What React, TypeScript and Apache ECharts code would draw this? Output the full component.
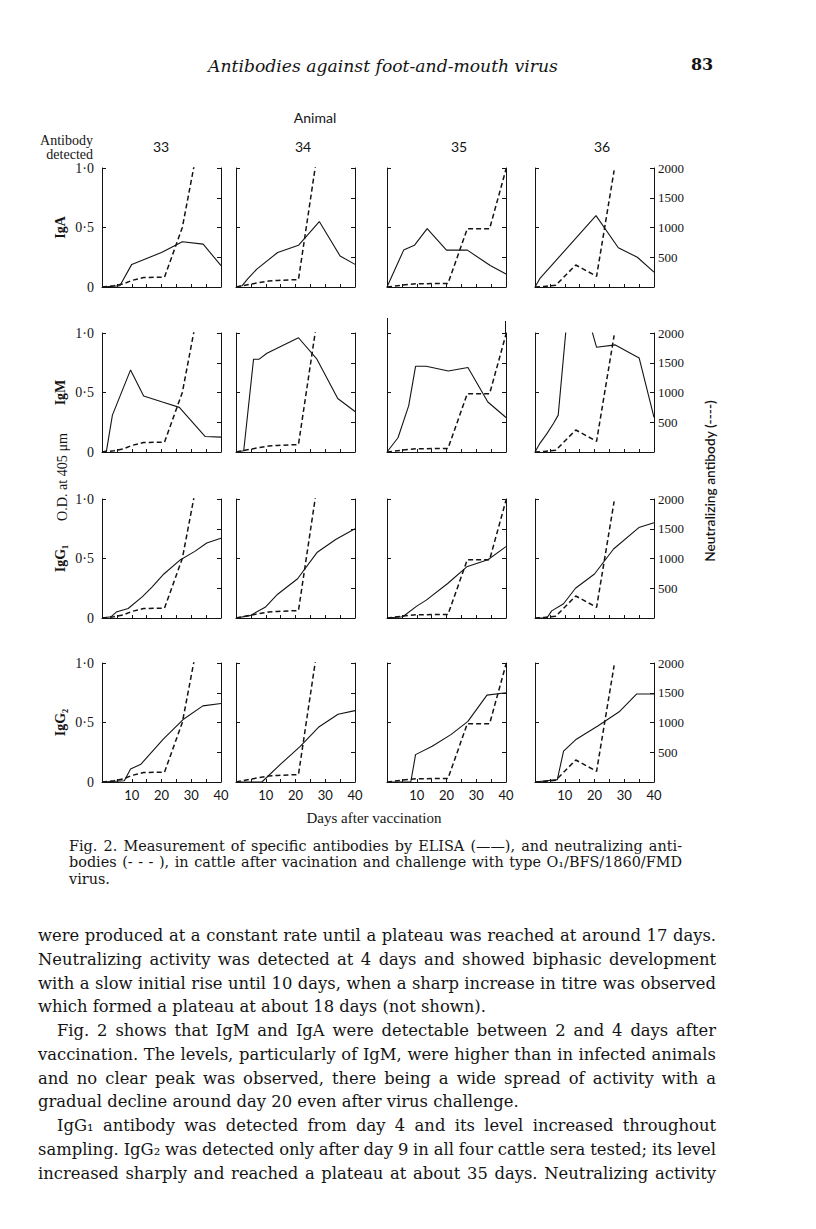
import React, { useEffect, useRef } from 'react';
import * as echarts from 'echarts';

// ---------- data ----------
const animals = ['33', '34', '35', '36'];
const isotypeLabels = ['IgA', 'IgM', 'IgG₁', 'IgG₂'];
const xTickLabels = [10, 20, 30, 40];
const leftTickLabels: Record<string, string> = { '0': '0', '0.5': '0·5', '1': '1·0' };
const rightTickLabels = [500, 1000, 1500, 2000];

// neutralizing antibody titre (dashed), one per animal: [day, titre]
const neut33 = [[0, 0], [4, 20], [7, 50], [10, 110], [14, 160], [21, 165], [27, 1000], [35, 3100]];
const neut34 = [[0, 0], [5, 50], [11, 100], [14, 110], [21, 125], [28, 2470]];
const neut35 = [[0, 0], [5, 30], [10, 55], [20.5, 60], [27, 980], [34.5, 980], [40, 1980]];
const neut36 = [[0, 0], [3, 10], [7, 30], [13.7, 370], [20.7, 180], [26.6, 1960]];

// ELISA O.D. at 405 (solid): [day, OD]
const igA33 = [[0, 0], [6, 0.01], [10, 0.19], [20, 0.29], [27, 0.38], [34, 0.36], [40, 0.18]];
const igA34 = [[0, 0], [2, 0.01], [4, 0.07], [7, 0.15], [14, 0.29], [21, 0.35], [28, 0.55], [35, 0.26], [40, 0.19]];
const igA35 = [[0, 0], [5.6, 0.31], [9.2, 0.35], [13.5, 0.49], [20, 0.31], [27, 0.31], [34.7, 0.18], [40, 0.11]];
const igA36 = [[0, 0], [1.6, 0.07], [20.5, 0.6], [28, 0.33], [34.4, 0.25], [40, 0.125]];

const igM33 = [[0, 0], [1.5, 0.01], [3.5, 0.31], [9.6, 0.69], [14, 0.47], [20.3, 0.42], [26, 0.375], [34.7, 0.13], [40, 0.125]];
const igM34 = [[0, 0], [2.6, 0.01], [5.9, 0.78], [7.8, 0.78], [10.4, 0.83], [21, 0.96], [27.2, 0.78], [34.2, 0.45], [40, 0.34]];
const igM35 = [[0, 0], [3.7, 0.12], [7.3, 0.39], [9.6, 0.72], [13.2, 0.72], [20.6, 0.68], [27.2, 0.71], [33.9, 0.42], [40, 0.29]];
const igM36 = [[0, 0], [1.7, 0.075], [3.9, 0.15], [6.2, 0.24], [7.8, 0.31], [12.5, 1.6], [20.7, 0.88], [27, 0.9], [35, 0.79], [40, 0.29]];

const igG1_33 = [[0, 0], [3, 0.01], [4.8, 0.05], [8.8, 0.08], [13.6, 0.18], [16.8, 0.26], [20.8, 0.37], [26.4, 0.49], [31.2, 0.56], [35.2, 0.63], [40, 0.67]];
const igG1_34 = [[0, 0], [4.7, 0.02], [9.8, 0.09], [14, 0.2], [20.7, 0.33], [27.2, 0.55], [33.5, 0.66], [40, 0.75]];
const igG1_35 = [[0, 0], [5.3, 0.01], [10, 0.1], [13.2, 0.15], [20.4, 0.29], [26.8, 0.43], [33.9, 0.49], [40, 0.6]];
const igG1_36 = [[0, 0], [4, 0], [5.6, 0.06], [9.6, 0.12], [13.6, 0.25], [20, 0.37], [26.4, 0.58], [34.9, 0.76], [40, 0.8]];

const igG2_33 = [[0, 0], [7.5, 0.01], [9.6, 0.11], [13.1, 0.15], [20.6, 0.36], [27.5, 0.53], [33.9, 0.64], [40, 0.66]];
const igG2_34 = [[0, 0], [8.7, 0], [15, 0.15], [21.6, 0.3], [27.7, 0.46], [34.3, 0.57], [40, 0.6]];
const igG2_35 = [[0, 0], [8, 0], [9.6, 0.23], [15.2, 0.3], [21.6, 0.4], [27.2, 0.51], [33.6, 0.73], [40, 0.75]];
const igG2_36 = [[0, 0], [7.5, 0.02], [9.6, 0.26], [13.9, 0.36], [21.1, 0.47], [28.3, 0.59], [34.2, 0.74], [40, 0.74]];

const elisaRows = [
  [igA33, igA34, igA35, igA36],
  [igM33, igM34, igM35, igM36],
  [igG1_33, igG1_34, igG1_35, igG1_36],
  [igG2_33, igG2_34, igG2_35, igG2_36],
];
const neutByAnimal = [neut33, neut34, neut35, neut36];

// ---------- page text ----------
const titleText = 'Antibodies against foot-and-mouth virus';
const pageNumber = '83';
const captionLines = [
  'Fig. 2. Measurement of specific antibodies by ELISA (——), and neutralizing anti-',
  'bodies (- - - ), in cattle after vacination and challenge with type O₁/BFS/1860/FMD',
  'virus.',
];
const bodyLines = [
  'were produced at a constant rate until a plateau was reached at around 17 days.',
  'Neutralizing activity was detected at 4 days and showed biphasic development',
  'with a slow initial rise until 10 days, when a sharp increase in titre was observed',
  'which formed a plateau at about 18 days (not shown).',
  'Fig. 2 shows that IgM and IgA were detectable between 2 and 4 days after',
  'vaccination. The levels, particularly of IgM, were higher than in infected animals',
  'and no clear peak was observed, there being a wide spread of activity with a',
  'gradual decline around day 20 even after virus challenge.',
  'IgG₁ antibody was detected from day 4 and its level increased throughout',
  'sampling. IgG₂ was detected only after day 9 in all four cattle sera tested; its level',
  'increased sharply and reached a plateau at about 35 days. Neutralizing activity',
];
const bodyJustify = [true, true, true, false, true, true, true, false, true, true, true];
const bodyIndent = [0, 0, 0, 0, 1, 0, 0, 0, 1, 0, 0];

// ---------- layout ----------
const PANEL_LEFT = [102, 236, 387, 535];
const PANEL_TOP = [168, 333, 499, 663];
const PANEL_W = 119;
const PANEL_H = 119;
const INK = '#141414';
const SERIF = '"Liberation Serif", "DejaVu Serif", serif';
const BOOK = '"DejaVu Serif", serif';
const SANS = 'Lato, "Open Sans", sans-serif';

export default function App() {
  const ref = useRef<HTMLDivElement>(null);

  useEffect(() => {
    if (!ref.current) return;
    const chart = echarts.init(ref.current, null, { renderer: 'svg' });

    const ctx = document.createElement('canvas').getContext('2d')!;
    const measure = (t: string, font: string) => {
      ctx.font = font;
      return ctx.measureText(t).width;
    };
    const fit = (t: string, style: string, family: string, target: number) => {
      const w = measure(t, `${style} 20px ${family}`);
      return (20 * target) / w;
    };

    const txt = (text: string, x: number, y: number, font: string, align = 'center', vAlign = 'middle', rotation = 0) => ({
      type: 'text',
      x,
      y,
      rotation,
      silent: true,
      style: {
        text,
        x: 0,
        y: 0,
        font,
        fill: INK,
        align,
        verticalAlign: vAlign,
        textAlign: align,
        textVerticalAlign: vAlign,
      },
    });

    const graphics: any[] = [];

    const words = (text: string, x0: number, x1: number, y: number, font: string, justify: boolean) => {
      const ws = text.split(' ');
      const widths = ws.map((w) => measure(w, font));
      const total = widths.reduce((a, b) => a + b, 0);
      const space = measure(' ', font);
      const gap = justify && ws.length > 1 ? (x1 - x0 - total) / (ws.length - 1) : space;
      let x = x0;
      ws.forEach((w, i) => {
        graphics.push(txt(w, x, y, font, 'left', 'middle'));
        x += widths[i] + gap;
      });
    };

    // header
    const titleSize = fit(titleText, 'italic', BOOK, 350);
    graphics.push(txt(titleText, 383, 66, `italic ${titleSize.toFixed(2)}px ${BOOK}`));
    graphics.push(txt(pageNumber, 702, 64, `bold 16px ${BOOK}`));
    graphics.push(txt('Animal', 315, 117, `14px ${SANS}`));
    graphics.push(txt('Antibody', 93, 140, `14px ${SERIF}`, 'right'));
    graphics.push(txt('detected', 93, 154, `14px ${SERIF}`, 'right'));
    const animalX = [161, 303, 459, 602];
    animals.forEach((a, i) => graphics.push(txt(a, animalX[i], 146, `14px ${SANS}`)));

    // row labels
    isotypeLabels.forEach((lab, r) => {
      graphics.push(txt(lab, 60, PANEL_TOP[r] + PANEL_H / 2, `bold 14px ${SERIF}`, 'center', 'middle', Math.PI / 2));
    });
    const odSize = fit('O.D. at 405 μm', '', SERIF, 88);
    graphics.push(txt('O.D. at 405 μm', 62, 477, `${odSize.toFixed(2)}px ${SERIF}`, 'center', 'middle', Math.PI / 2));
    const nSize = fit('Neutralizing antibody (----)', '600', SANS, 162);
    graphics.push(txt('Neutralizing antibody (----)', 709, 481, `600 ${nSize.toFixed(2)}px ${SANS}`, 'center', 'middle', Math.PI / 2));
    graphics.push(txt('Days after vaccination', 374, 818, `15px ${SERIF}`));

    // scan artefact: axes of animal 35 / IgM panel run above the frame
    graphics.push({ type: 'line', silent: true, shape: { x1: PANEL_LEFT[2] + 0.5, y1: 318, x2: PANEL_LEFT[2] + 0.5, y2: PANEL_TOP[1] }, style: { stroke: INK, lineWidth: 1 } });
    graphics.push({ type: 'line', silent: true, shape: { x1: PANEL_LEFT[2] + PANEL_W - 0.5, y1: 321, x2: PANEL_LEFT[2] + PANEL_W - 0.5, y2: PANEL_TOP[1] }, style: { stroke: INK, lineWidth: 1 } });

    // caption
    const capSize = fit(captionLines[0], '', BOOK, 596);
    const capFont = `${capSize.toFixed(2)}px ${BOOK}`;
    captionLines.forEach((l, i) => words(l, 69, 682, 846 + i * 16.3, capFont, i < 2));

    // body
    const bodySize = fit(bodyLines[7] + ' ' + bodyLines[3], '', BOOK, 479 + 455);
    const bodyFont = `${bodySize.toFixed(2)}px ${BOOK}`;
    bodyLines.forEach((l, i) => {
      words(l, 38 + bodyIndent[i] * 19, 716, 935.5 + i * 23.77, bodyFont, bodyJustify[i]);
    });

    // ---------- panels ----------
    const grids: any[] = [];
    const xAxes: any[] = [];
    const yAxes: any[] = [];
    const series: any[] = [];
    const axisLine = { show: true, onZero: false, lineStyle: { color: INK, width: 1 } };

    for (let r = 0; r < 4; r++) {
      for (let c = 0; c < 4; c++) {
        const gi = r * 4 + c;
        grids.push({ left: PANEL_LEFT[c], top: PANEL_TOP[r], width: PANEL_W, height: PANEL_H, show: false });
        xAxes.push({
          type: 'value',
          gridIndex: gi,
          min: 0,
          max: 40,
          interval: 5,
          axisLine,
          axisTick: { show: true, inside: true, length: 3, lineStyle: { color: INK } },
          splitLine: { show: false },
          axisLabel: {
            show: r === 3,
            showMinLabel: true,
            showMaxLabel: true,
            margin: 6,
            color: INK,
            fontFamily: SANS,
            fontSize: 13,
            formatter: (v: number) => (xTickLabels.includes(v) ? String(v) : ''),
          },
        });
        yAxes.push({
          type: 'value',
          gridIndex: gi,
          position: 'left',
          min: 0,
          max: 1,
          interval: 0.5,
          axisLine,
          axisTick: { show: true, inside: true, length: 4, lineStyle: { color: INK } },
          splitLine: { show: false },
          axisLabel: {
            show: c === 0,
            margin: 8,
            color: INK,
            fontFamily: SERIF,
            fontSize: 14,
            formatter: (v: number) => leftTickLabels[String(v)] ?? '',
          },
        });
        yAxes.push({
          type: 'value',
          gridIndex: gi,
          position: 'right',
          min: 0,
          max: 2000,
          interval: 500,
          axisLine,
          axisTick: { show: true, inside: true, length: 4, lineStyle: { color: INK } },
          splitLine: { show: false },
          axisLabel: {
            show: c === 3,
            margin: 4,
            color: INK,
            fontFamily: SERIF,
            fontSize: 13,
            formatter: (v: number) => (rightTickLabels.includes(v) ? String(v) : ''),
          },
        });
        series.push({
          type: 'line',
          xAxisIndex: gi,
          yAxisIndex: gi * 2,
          data: elisaRows[r][c],
          symbol: 'none',
          clip: true,
          silent: true,
          lineStyle: { color: INK, width: 1.1 },
        });
        series.push({
          type: 'line',
          xAxisIndex: gi,
          yAxisIndex: gi * 2 + 1,
          data: neutByAnimal[c],
          symbol: 'none',
          clip: true,
          silent: true,
          lineStyle: { color: INK, width: 1.5, type: [5, 3] },
        });
      }
    }

    chart.setOption({
      animation: false,
      backgroundColor: '#ffffff',
      grid: grids,
      xAxis: xAxes,
      yAxis: yAxes,
      series,
      graphic: { elements: graphics },
    });

    return () => chart.dispose();
  }, []);

  return (
    <div
      ref={ref}
      style={{ position: 'absolute', left: 0, top: 0, width: 816, height: 1229, background: '#fff' }}
    />
  );
}
